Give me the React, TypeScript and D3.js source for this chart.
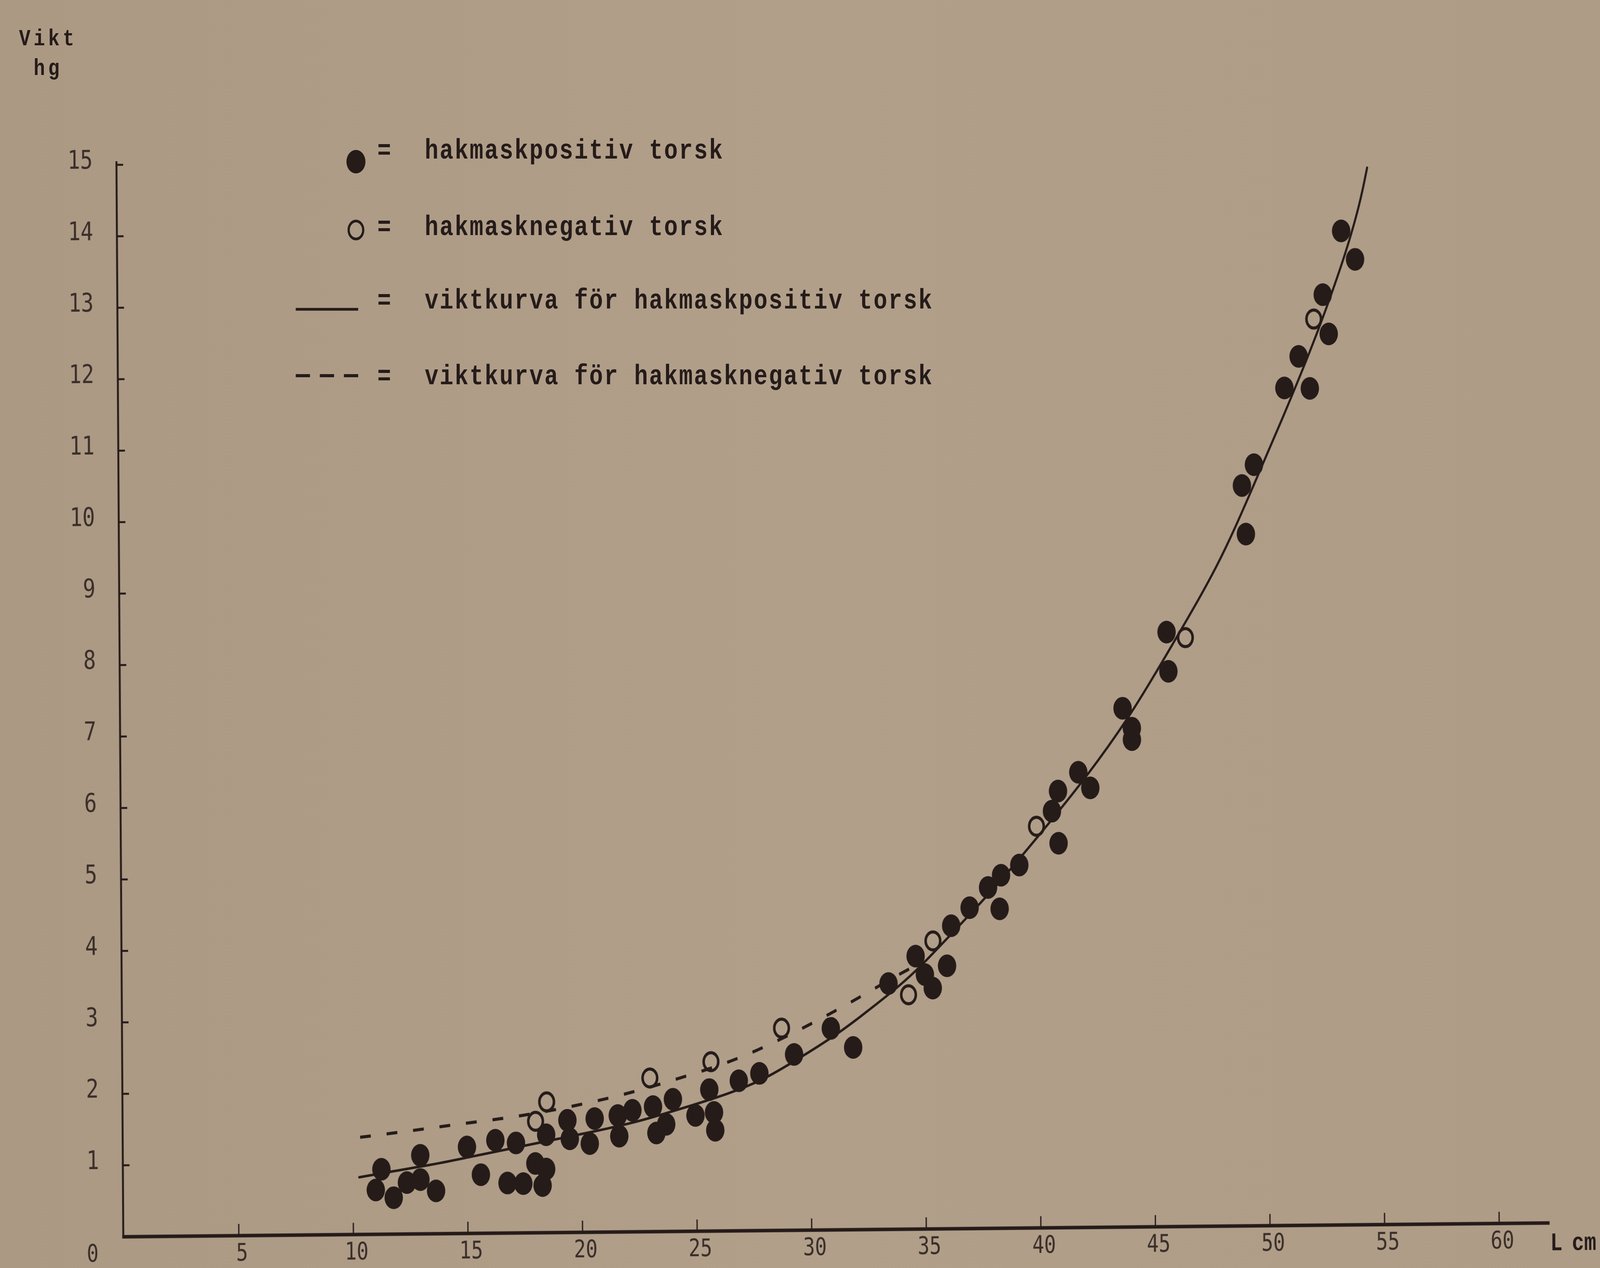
import React from "react";
import * as d3 from "d3";

const WIDTH = 5048;
const HEIGHT = 3247;

// hakmaskpositiv torsk (filled dots): length cm, weight hg
const posLength = [11.24, 10.99, 11.77, 12.35, 12.94, 12.94, 13.62, 14.98, 15.58, 16.22, 16.74, 17.12, 17.43, 17.96, 18.43, 18.27, 18.44, 19.37, 19.47, 20.34, 20.56, 21.57, 21.63, 22.21, 23.11, 23.68, 23.25, 23.98, 24.96, 25.57, 25.77, 25.82, 26.86, 27.76, 29.28, 30.89, 31.86, 33.42, 34.61, 35.01, 35.35, 35.98, 36.17, 36.98, 37.79, 38.29, 38.36, 39.16, 40.88, 40.6, 40.87, 41.76, 42.28, 43.71, 44.11, 44.11, 45.65, 45.72, 49.14, 48.98, 49.51, 50.86, 51.97, 51.49, 52.81, 52.56, 53.38, 53.98];
const posWeight = [0.91, 0.62, 0.51, 0.72, 1.1, 0.76, 0.6, 1.21, 0.82, 1.3, 0.7, 1.26, 0.69, 0.97, 0.89, 0.66, 1.37, 1.57, 1.31, 1.24, 1.59, 1.63, 1.34, 1.7, 1.75, 1.5, 1.38, 1.85, 1.62, 1.98, 1.66, 1.41, 2.1, 2.2, 2.46, 2.82, 2.55, 3.44, 3.82, 3.56, 3.37, 3.68, 4.24, 4.49, 4.77, 4.47, 4.94, 5.08, 5.38, 5.83, 6.11, 6.37, 6.15, 7.26, 6.98, 6.82, 8.32, 7.77, 9.68, 10.36, 10.65, 11.72, 11.71, 12.16, 12.47, 13.02, 13.91, 13.51];

// hakmasknegativ torsk (open circles)
const negLength = [17.98, 18.47, 22.98, 25.65, 28.74, 34.29, 35.37, 39.92, 46.47, 52.16];
const negWeight = [1.56, 1.83, 2.15, 2.37, 2.83, 3.28, 4.03, 5.62, 8.24, 12.68];

// viktkurva för hakmaskpositiv torsk (solid)
const curvePosLength = [10.27, 11.93, 13.52, 15.11, 16.7, 18.12, 20.24, 22.36, 24.48, 26.43, 28.02, 29.62, 31.2, 32.8, 33.87, 34.76, 36.34, 38.2, 40.1, 42.02, 44.16, 46.0, 47.94, 49.38, 50.81, 52.06, 52.74, 53.58, 54.22, 54.53];
const curvePosWeight = [0.8, 0.89, 0.97, 1.07, 1.17, 1.26, 1.39, 1.53, 1.73, 1.92, 2.12, 2.43, 2.74, 3.13, 3.4, 3.65, 4.18, 4.8, 5.52, 6.26, 7.2, 8.2, 9.24, 10.28, 11.32, 12.28, 12.85, 13.6, 14.3, 14.79];

// viktkurva för hakmasknegativ torsk (dashed)
const curveNegLength = [10.32, 12.46, 14.58, 17.3, 19.55, 21.89, 24.25, 26.81, 29.41, 31.67, 33.77, 34.57];
const curveNegWeight = [1.36, 1.44, 1.53, 1.63, 1.76, 1.92, 2.14, 2.39, 2.78, 3.16, 3.55, 3.68];

const xTickValues = [5, 10, 15, 20, 25, 30, 35, 40, 45, 50, 55, 60];
const yTickValues = [1, 2, 3, 4, 5, 6, 7, 8, 9, 10, 11, 12, 13, 14, 15];
const legendLabels = [
  "hakmaskpositiv torsk",
  "hakmasknegativ torsk",
  "viktkurva för hakmaskpositiv torsk",
  "viktkurva för hakmasknegativ torsk",
];
const yTitle = ["Vikt", "hg"];
const xTitle = ["L", "cm"];

const INK = "#251b19";
const TICK_INK = "#3a2e29";

export default function App() {
  const ox = 392;
  const oy = 3167;
  const x = d3.scaleLinear().domain([0, 60]).range([ox, ox + 60 * 72.3]);
  const y = d3.scaleLinear().domain([0, 15]).range([oy, oy - 15 * 183]);

  const line = d3
    .line<[number, number]>()
    .x((d) => x(d[0]))
    .y((d) => y(d[1]))
    .curve(d3.curveBasis);

  const posCurve = line(curvePosLength.map((l, i) => [l, curvePosWeight[i]]));
  const negCurve = line(curveNegLength.map((l, i) => [l, curveNegWeight[i]]));

  const tickFont = "'DejaVu Sans Mono', monospace";
  const typeFont = "'Liberation Mono', 'DejaVu Sans Mono', monospace";

  const legendRows = [406, 602, 790, 984];

  return (
    <svg
      viewBox={`0 0 ${WIDTH} ${HEIGHT}`}
      preserveAspectRatio="none"
      style={{
        position: "fixed",
        left: 0,
        top: 0,
        width: "100vw",
        height: "100vh",
        display: "block",
      }}
    >
      <defs>
        <linearGradient id="paper" x1="0" x2="1" y1="0" y2="0">
          <stop offset="0" stopColor="#ab9984" />
          <stop offset="0.5" stopColor="#b19f8a" />
          <stop offset="1" stopColor="#ae9c87" />
        </linearGradient>
      </defs>
      <rect x={0} y={0} width={WIDTH} height={HEIGHT} fill="url(#paper)" />

      {/* y title */}
      <g fontFamily={typeFont} fontWeight={700} fontSize={60} fill={INK} letterSpacing={10}>
        <text x={60} y={116}>{yTitle[0]}</text>
        <text x={106} y={192}>{yTitle[1]}</text>
      </g>

      {/* legend */}
      <g fontFamily={typeFont} fontWeight={700} fontSize={72} fill={INK} letterSpacing={4}>
        <circle cx={1123} cy={414} r={30} fill={INK} />
        <circle cx={1123} cy={589} r={23} fill="none" stroke={INK} strokeWidth={7} />
        <line x1={933} x2={1130} y1={792} y2={792} stroke={INK} strokeWidth={7} />
        <line x1={933} x2={1130} y1={962} y2={962} stroke={INK} strokeWidth={8} strokeDasharray="45 31" />
        {legendRows.map((by, i) => (
          <g key={i}>
            <text x={1214} y={by} textAnchor="middle">=</text>
            <text x={1340} y={by}>{legendLabels[i]}</text>
          </g>
        ))}
      </g>

      {/* chart body, slightly rotated like the photographed page */}
      <g transform={`rotate(-0.45 ${ox} ${oy})`}>
        {/* axes */}
        <line x1={x(0) - 3} x2={x(0) - 3} y1={y(0) + 4} y2={y(15.05)} stroke={INK} strokeWidth={6} />
        <line x1={x(0) - 6} x2={x(62.2)} y1={y(0)} y2={y(0)} stroke={INK} strokeWidth={9} />
        {yTickValues.map((v) => (
          <g key={`yt${v}`}>
            <line x1={x(0) - 3} x2={x(0) + 18} y1={y(v)} y2={y(v)} stroke={INK} strokeWidth={5} />
            <text
              x={x(0) - 78}
              y={y(v) + 9}
              textAnchor="end"
              fontFamily={tickFont}
              fontSize={66}
              fill={TICK_INK}
            >
              {v}
            </text>
          </g>
        ))}
        {xTickValues.map((v) => (
          <g key={`xt${v}`}>
            <line x1={x(v)} x2={x(v)} y1={y(0)} y2={y(0) - 30} stroke={INK} strokeWidth={4} />
            <text
              x={x(v) + 10}
              y={y(0) + 64}
              textAnchor="middle"
              fontFamily={tickFont}
              fontSize={62}
              fill={TICK_INK}
            >
              {v}
            </text>
          </g>
        ))}
        <text
          x={x(0) - 100}
          y={y(0) + 63}
          textAnchor="middle"
          fontFamily={tickFont}
          fontSize={62}
          fill={TICK_INK}
        >
          0
        </text>
        <g fontFamily={typeFont} fontWeight={700} fontSize={64} fill={INK}>
          <text x={x(62.2) + 2} y={y(0) + 70}>{xTitle[0]}</text>
          <text x={5036} y={y(0) + 70} textAnchor="end">{xTitle[1]}</text>
        </g>

        {/* curves */}
        <path d={posCurve ?? ""} fill="none" stroke={INK} strokeWidth={6.5} strokeLinecap="round" />
        <path d={negCurve ?? ""} fill="none" stroke={INK} strokeWidth={8} strokeDasharray="34 50" />

        {/* points */}
        {posLength.map((l, i) => (
          <circle key={`p${i}`} cx={x(l)} cy={y(posWeight[i])} r={29} fill={INK} />
        ))}
        {negLength.map((l, i) => (
          <circle
            key={`n${i}`}
            cx={x(l)}
            cy={y(negWeight[i])}
            r={23}
            fill="none"
            stroke={INK}
            strokeWidth={8}
          />
        ))}
      </g>
    </svg>
  );
}
